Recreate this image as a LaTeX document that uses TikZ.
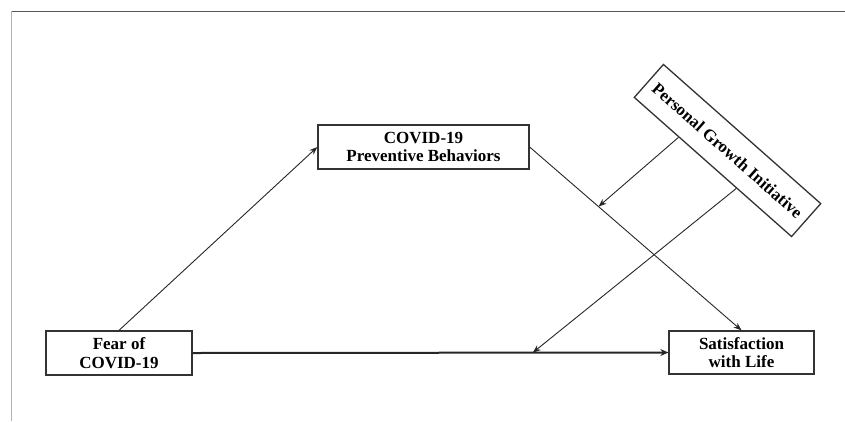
\documentclass[tikz,border=0pt]{standalone}
\usepackage{fontspec}
\setmainfont{Liberation Serif}
\usetikzlibrary{arrows.meta,calc}
\tikzset{
  box/.style={draw=black!80, line width=1.3pt, inner sep=0pt, align=center,
    font=\fontsize{17}{18.5}\selectfont\bfseries},
  conn/.style={draw=black!85, line width=0.9pt, -{Stealth[length=8pt,width=6pt]}},
  thickconn/.style={draw=black!85, line width=2pt, -{Stealth[length=8pt,width=7pt]}}
}
\begin{document}
\begin{tikzpicture}[x=1pt,y=-1pt]
\useasboundingbox (0,0) rectangle (845,421);
\draw[black!65, line width=1.5pt] (11,11.5) -- (845,11.5);
\draw[black!30, line width=1.5pt] (11.5,11) -- (11.5,421);
\node[box, minimum width=211pt, minimum height=44pt] (CPB) at (423.5,147) {COVID-19\\Preventive Behaviors};
\node[box, minimum width=146pt, minimum height=44pt] (Fear) at (119,353) {Fear of\\COVID-19};
\node[box, minimum width=145pt, minimum height=43pt] (Sat) at (741.5,352.5) {Satisfaction\\with Life};
\node[box, rotate=-41.5, minimum width=210pt, minimum height=44pt] (PGI) at (727.5,150.5) {Personal Growth Initiative};
\draw[conn] (Fear.north) -- (CPB.west);
\draw[conn] (CPB.east) -- (Sat.north);
\draw[thickconn] (Fear.east) -- (Sat.west);
\coordinate (m1) at ($(CPB.east)!0.325!(Sat.north)$);
\coordinate (m2) at ($(Fear.east)!0.715!(Sat.west)$);
\draw[conn] ($(PGI.south west)!0.285!(PGI.south east)$) -- (m1);
\draw[conn] ($(PGI.south west)!0.65!(PGI.south east)$) -- (m2);
\end{tikzpicture}
\end{document}
